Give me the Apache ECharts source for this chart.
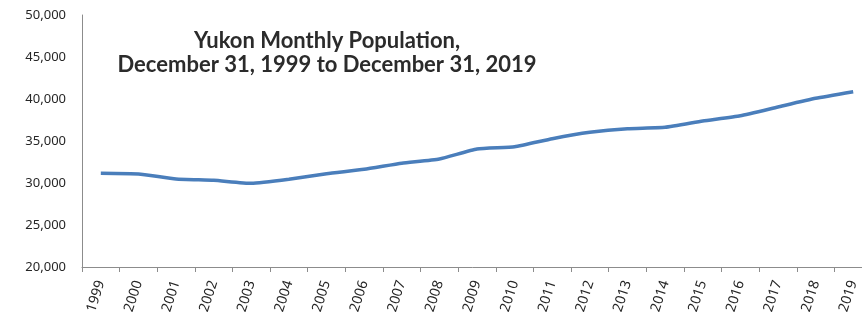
<!DOCTYPE html>
<html>
<head>
<meta charset="utf-8">
<script src="https://cdn.jsdelivr.net/npm/echarts@6/dist/echarts.min.js"></script>
<style>
  html, body { margin: 0; padding: 0; background: #fff; }
  #chart { width: 862px; height: 314px; }
</style>
</head>
<body>
<div id="chart"></div>
<script>
// 年份（每年 12 月 31 日）
var YEARS = ['1999', '2000', '2001', '2002', '2003', '2004', '2005', '2006', '2007', '2008',
  '2009', '2010', '2011', '2012', '2013', '2014', '2015', '2016', '2017', '2018', '2019'];

// 育空人口（读图估算）
var POPULATION = [31150, 31070, 30480, 30320, 29960, 30440, 31110, 31630, 32350, 32860,
  34050, 34320, 35270, 36030, 36470, 36630, 37380, 38010, 39050, 40080, 40870];

var TITLE_TEXT = 'Yukon Monthly Population,\nDecember 31, 1999 to December 31, 2019';

var AXIS_GRAY = '#8c8c8c';
var LABEL_COLOR = '#262626';
var LINE_COLOR = '#4a7ebb';

var chart = echarts.init(document.getElementById('chart'));

chart.setOption({
  animation: false,
  title: {
    text: TITLE_TEXT,
    left: 322,
    top: 24,
    textAlign: 'center',
    textStyle: {
      fontFamily: 'Lato',
      fontWeight: 'bold',
      fontSize: 22,
      lineHeight: 24,
      color: '#2b2b2b'
    }
  },
  grid: { left: 82, right: -10, top: 15, bottom: 47, containLabel: false, outerBoundsMode: 'none' },
  xAxis: {
    type: 'category',
    data: YEARS,
    boundaryGap: true,
    axisLine: { lineStyle: { color: AXIS_GRAY, width: 1 } },
    axisTick: { show: true, length: 5, alignWithLabel: false, lineStyle: { color: AXIS_GRAY } },
    axisLabel: {
      interval: 0,
      rotate: 72,
      margin: 14,
      fontFamily: 'Noto Sans',
      fontSize: 14,
      color: LABEL_COLOR
    },
    splitLine: { show: false }
  },
  yAxis: {
    type: 'value',
    min: 20000,
    max: 50000,
    interval: 5000,
    axisLine: { show: true, lineStyle: { color: AXIS_GRAY, width: 1 } },
    axisTick: { show: false },
    splitLine: { show: false },
    axisLabel: {
      margin: 16,
      fontFamily: 'Noto Sans',
      fontSize: 13,
      color: LABEL_COLOR,
      formatter: function(v) {
        return v.toLocaleString('en-US');
      }
    }
  },
  series: [{
    type: 'line',
    data: POPULATION,
    showSymbol: false,
    smooth: 0.15,
    lineStyle: { color: LINE_COLOR, width: 3.5 },
    itemStyle: { color: LINE_COLOR }
  }]
});
</script>
</body>
</html>
